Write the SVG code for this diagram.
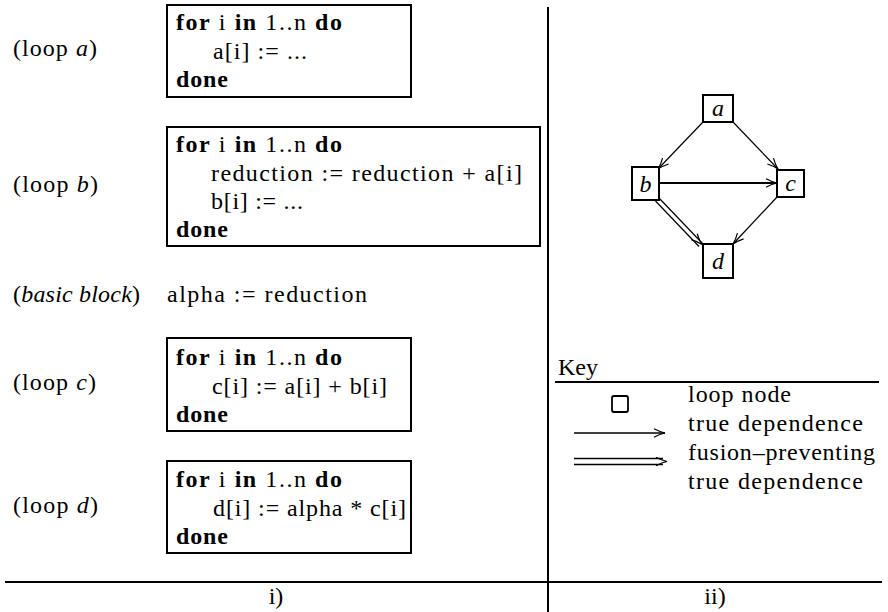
<svg xmlns="http://www.w3.org/2000/svg" width="888" height="612" viewBox="0 0 888 612">
<style>
text{font-family:"Liberation Serif","DejaVu Serif",serif;font-size:24px;fill:#000}
.b{font-weight:bold}
.i{font-style:italic}
.box{fill:#fff;stroke:#000;stroke-width:2}
.node{fill:#fff;stroke:#000;stroke-width:2}
.rule{stroke:#000;stroke-width:2;fill:none}
.e{stroke:#000;stroke-width:1.2;fill:none}
.e2{stroke:#000;stroke-width:1.8;fill:none}
.k{stroke:#000;stroke-width:1.6;fill:none}
</style>
<defs>
<marker id="ah" viewBox="0 0 13 10" refX="12" refY="5" markerWidth="13" markerHeight="10" markerUnits="userSpaceOnUse" orient="auto">
<path d="M1,0.8 Q7,4 12,5 Q7,6 1,9.2" fill="none" stroke="#000" stroke-width="1.2"/>
</marker>
</defs>
<g id="rules">
<line class="rule" x1="548" y1="7" x2="548" y2="612"/>
<line class="rule" x1="5" y1="582" x2="882" y2="582"/>
<text x="276" y="604" text-anchor="middle">i)</text>
<text x="715" y="604" text-anchor="middle">ii)</text>
</g>
<g id="loopA">
<text x="13" y="56" textLength="84">(loop <tspan class="i">a</tspan>)</text>
<rect class="box" x="167" y="5" width="244" height="92"/>
<text x="176" y="30" textLength="166"><tspan class="b">for</tspan> i <tspan class="b">in</tspan> 1..n <tspan class="b">do</tspan></text>
<text x="213" y="58.5" textLength="94">a[i] := ...</text>
<text x="176" y="87" class="b" textLength="52">done</text>
</g>
<g id="loopB">
<text x="13" y="192" textLength="85">(loop <tspan class="i">b</tspan>)</text>
<rect class="box" x="167" y="127" width="373" height="119"/>
<text x="176" y="152" textLength="166"><tspan class="b">for</tspan> i <tspan class="b">in</tspan> 1..n <tspan class="b">do</tspan></text>
<text x="211" y="180.5" textLength="311">reduction := reduction + a[i]</text>
<text x="211" y="209" textLength="92">b[i] := ...</text>
<text x="176" y="237" class="b" textLength="52">done</text>
</g>
<g id="basicBlock">
<text x="13" y="302" textLength="127">(<tspan class="i">basic block</tspan>)</text>
<text x="167" y="302" textLength="200">alpha := reduction</text>
</g>
<g id="loopC">
<text x="13" y="390" textLength="83">(loop <tspan class="i">c</tspan>)</text>
<rect class="box" x="167" y="338" width="244" height="93"/>
<text x="176" y="365" textLength="166"><tspan class="b">for</tspan> i <tspan class="b">in</tspan> 1..n <tspan class="b">do</tspan></text>
<text x="212" y="394" textLength="175">c[i] := a[i] + b[i]</text>
<text x="176" y="422" class="b" textLength="52">done</text>
</g>
<g id="loopD">
<text x="13" y="513" textLength="85">(loop <tspan class="i">d</tspan>)</text>
<rect class="box" x="167" y="461" width="244" height="92"/>
<text x="176" y="487" textLength="166"><tspan class="b">for</tspan> i <tspan class="b">in</tspan> 1..n <tspan class="b">do</tspan></text>
<text x="213" y="515.5" textLength="193">d[i] := alpha * c[i]</text>
<text x="176" y="544" class="b" textLength="52">done</text>
</g>
<g id="connectors">
<line class="e" x1="703" y1="122" x2="658" y2="169" marker-end="url(#ah)"/>
<line class="e" x1="733" y1="122" x2="778" y2="169" marker-end="url(#ah)"/>
<line class="e2" x1="659" y1="183" x2="777" y2="183" marker-end="url(#ah)"/>
<line class="e" x1="777" y1="197" x2="733" y2="244" marker-end="url(#ah)"/>
<line class="e" x1="659" y1="198" x2="702.5" y2="243.5"/>
<line class="e" x1="655.5" y1="201" x2="699" y2="246.5"/>
<line class="e" x1="657" y1="199.5" x2="702" y2="244.5" stroke-opacity="0" marker-end="url(#ah)"/>
</g>
<g id="nodeA"><rect class="node" x="703" y="95" width="30" height="27"/><text x="718" y="116" text-anchor="middle" class="i">a</text></g>
<g id="nodeB"><rect class="node" x="632" y="167" width="27" height="33"/><text x="645.5" y="192" text-anchor="middle" class="i">b</text></g>
<g id="nodeC"><rect class="node" x="777" y="170" width="27" height="27"/><text x="790.5" y="191" text-anchor="middle" class="i">c</text></g>
<g id="nodeD"><rect class="node" x="703" y="244" width="30" height="34"/><text x="718" y="269" text-anchor="middle" class="i">d</text></g>
<g id="key">
<text x="558" y="375" textLength="40">Key</text>
<line class="rule" x1="555" y1="382" x2="879" y2="382"/>
<rect x="612" y="396" width="16" height="16" rx="2" fill="none" stroke="#000" stroke-width="1.8"/>
<text x="688" y="402" textLength="103">loop node</text>
<line class="k" x1="574" y1="433" x2="665" y2="433" marker-end="url(#ah)"/>
<text x="688" y="431" textLength="175">true dependence</text>
<line class="k" x1="574" y1="458.5" x2="663" y2="458.5"/>
<line class="k" x1="574" y1="464.5" x2="663" y2="464.5"/>
<line class="k" x1="574" y1="461.5" x2="667" y2="461.5" stroke-opacity="0" marker-end="url(#ah)"/>
<text x="688" y="460" textLength="187">fusion–preventing</text>
<text x="688" y="489" textLength="175">true dependence</text>
</g>
</svg>
